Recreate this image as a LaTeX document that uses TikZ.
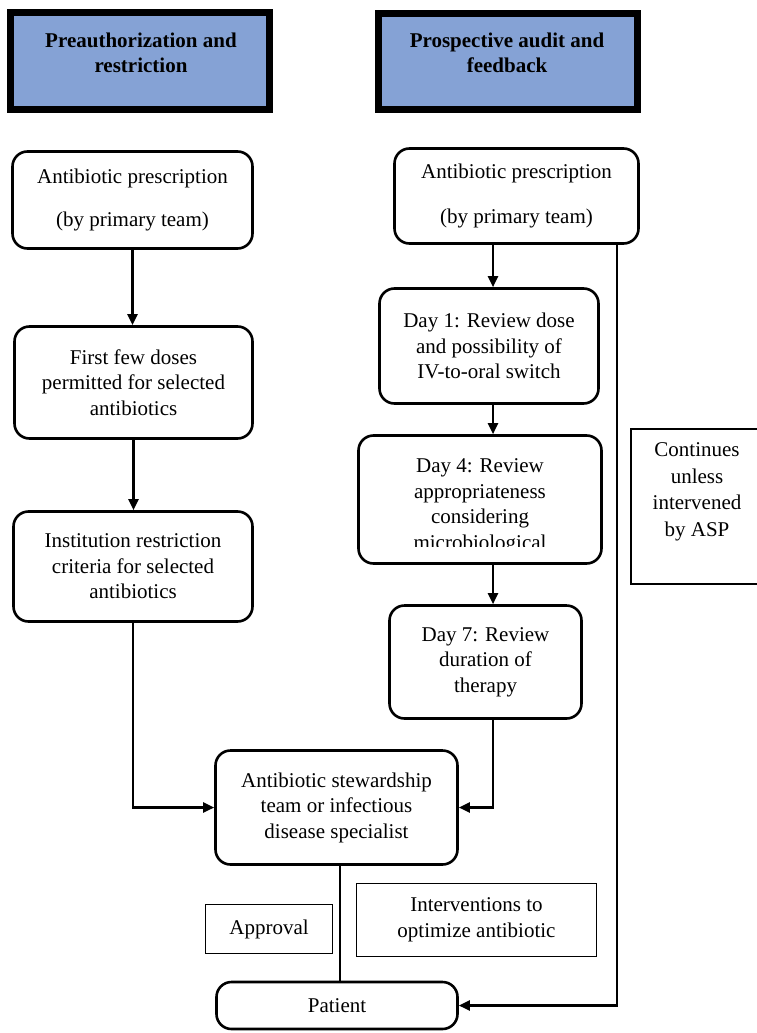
\documentclass[tikz,border=0pt]{standalone}
\usepackage{fontspec}
\setmainfont{Liberation Serif}
\usetikzlibrary{arrows.meta,calc}
\definecolor{hdrblue}{RGB}{133,162,213}
\begin{document}
\begin{tikzpicture}[x=1pt,y=-1pt,
  font=\fontsize{21}{25.5}\selectfont,
  box/.style={draw,line width=2.6pt,rounded corners=15pt,align=center,inner sep=0pt},
  plainbox/.style={draw,line width=1.6pt,align=center,inner sep=0pt},
  hdr/.style={draw,line width=7pt,fill=hdrblue,inner sep=0pt},
  hdrtext/.style={font=\fontsize{21}{25}\selectfont\bfseries,align=center,inner sep=0pt},
  txt/.style={align=center,inner sep=0pt},
  arr/.style={line width=2.4pt,-{Triangle[length=11pt,width=10pt]}},
  con/.style={line width=2.4pt}]
\useasboundingbox[fill=white] (0,0) rectangle (757,1033);

% headers
\node[hdr,minimum width=259pt,minimum height=97pt] (h1) at (140,61) {};
\node[hdrtext] (h1t) at (141,52.5) {Preauthorization and\\restriction};
\node[hdr,minimum width=259pt,minimum height=96pt] (h2) at (508,61.5) {};
\node[hdrtext] (h2t) at (507,52.5) {Prospective audit and\\feedback};

% left column
\node[box,minimum width=240pt,minimum height=97pt] (L1) at (132.5,200)
  {Antibiotic prescription\\[17.5pt](by primary team)};
\node[box,minimum width=238pt,minimum height=112pt] (L2) at (133.5,382.5)
  {First few doses\\permitted for selected\\antibiotics};
\node[box,minimum width=239pt,minimum height=110pt] (L3) at (133,566.5)
  {Institution restriction\\criteria for selected\\antibiotics};

% right column
\node[box,minimum width=244pt,minimum height=95pt] (R1) at (516.5,196)
  {Antibiotic prescription\\[19pt](by primary team)};
\node[box,minimum width=219pt,minimum height=115pt] (R2) at (489,346)
  {Day 1: Review dose\\and possibility of\\IV-to-oral switch};
\node[box,minimum width=243pt,minimum height=128pt] (R3) at (480,499.5) {};
\node[txt] (R3t) at (480,506.5)
  {Day 4: Review\\appropriateness\\considering\\\phantom{microbiological}};
\begin{scope}
  \clip (360,525) rectangle (600,546);
  \node[txt] (R3x) at (R3t.center)
    {\phantom{Day 4: Review}\\\phantom{appropriateness}\\\phantom{considering}\\microbiological};
\end{scope}
\node[box,minimum width=192pt,minimum height=113pt] (R4) at (485.5,662)
  {Day 7: Review\\duration of\\therapy};

% continues box (runs off the right edge)
\node[plainbox,line width=2pt,minimum width=132pt,minimum height=155pt] (cont) at (697,506.5) {};
\node[txt,font=\fontsize{21}{26.5}\selectfont] (contt) at (697,492)
  {Continues\\unless\\intervened\\by ASP};

% bottom
\node[box,minimum width=242pt,minimum height=114pt] (S) at (336.5,807.5)
  {Antibiotic stewardship\\team or infectious\\disease specialist};
\node[plainbox,minimum width=127pt,minimum height=49pt] (A) at (269,929) {Approval};
\node[plainbox,minimum width=240pt,minimum height=73pt] (I) at (476.5,920)
  {Interventions to\\optimize antibiotic};
\node[box,minimum width=241pt,minimum height=47pt] (P) at (337,1005.5) {Patient};

% connectors
\coordinate (rc) at (493,0);
\coordinate (pc) at (340,0);
\coordinate (rl) at (617,0);
\draw[arr] (L1.south) -- (L1.south |- L2.north);
\draw[arr] (L2.south) -- (L2.south |- L3.north);
\draw[arr] (L3.south) |- (S.west);
\draw[arr] (R1.south -| rc) -- (R2.north -| rc);
\draw[arr] (R2.south -| rc) -- (R3.north -| rc);
\draw[arr] (R3.south -| rc) -- (R4.north -| rc);
\draw[arr] (R4.south -| rc) |- (S.east);
\draw[con] (S.south -| pc) -- (P.north -| pc);
\draw[arr] (R1.south -| rl) |- (P.east);
\end{tikzpicture}
\end{document}
